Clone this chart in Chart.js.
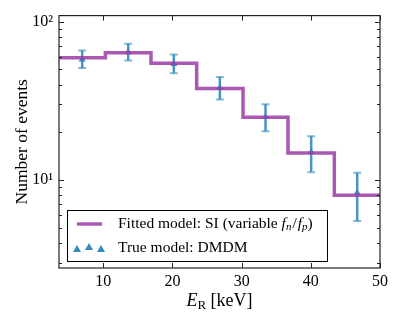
<!DOCTYPE html>
<html>
<head>
    <title>Events vs recoil energy</title>
    <script src="https://cdn.jsdelivr.net/npm/chart.js"></script>
    <style>
        body {
            margin: 0;
            padding: 0;
            background: white;
        }
        .chart-container {
            width: 396px;
            height: 317px;
        }
    </style>
</head>
<body>
    <div class="chart-container">
        <canvas id="eventsChart"></canvas>
    </div>
    <script>
        // bins of the fitted model (keV) and its counts
        const binEdges = [3.6, 10.3, 16.9, 23.5, 30.2, 36.7, 43.4, 50];
        const fittedCounts = [59, 63.5, 54.5, 37.8, 24.9, 14.8, 8.0];

        // simulated data (true model) with error bars
        const binCenters = [6.95, 13.6, 20.2, 26.85, 33.45, 40.05, 46.7];
        const trueCounts = [57.5, 64, 54, 38, 25, 15, 8.3];
        const errLow = [50.8, 56.8, 47.1, 32.2, 20.3, 11.2, 5.5];
        const errHigh = [65.6, 72.5, 61.9, 44.7, 30.1, 18.9, 11.1];

        const xTicks = [10, 20, 30, 40, 50];
        const yTicks = [3, 4, 5, 6, 7, 8, 9, 10, 20, 30, 40, 50, 60, 70, 80, 90, 100];
        const yLabels = { 10: '10\u00B9', 100: '10\u00B2' };

        const fitLabel = 'Fitted model: SI (variable ';
        const trueLabel = 'True model: DMDM';

        const SERIF = '"Liberation Serif", "DejaVu Serif", serif';
        const purple = 'rgba(155, 60, 165, 0.85)';
        const blue = '#348ABD';

        // error bars, inward ticks, frame, x title and legend
        const extras = {
            id: 'extras',
            beforeDatasetsDraw(chart) {
                const ctx = chart.ctx;
                const xs = chart.scales.x, ys = chart.scales.y;
                ctx.save();
                for (let i = 0; i < binCenters.length; i++) {
                    const px = xs.getPixelForValue(binCenters[i]);
                    const top = ys.getPixelForValue(errHigh[i]);
                    const bot = ys.getPixelForValue(errLow[i]);
                    ctx.lineWidth = 2.5;
                    ctx.strokeStyle = 'rgba(52, 138, 189, 0.9)';
                    ctx.beginPath();
                    ctx.moveTo(px, top);
                    ctx.lineTo(px, bot);
                    ctx.stroke();
                    ctx.lineWidth = 2;
                    ctx.strokeStyle = 'rgba(52, 138, 189, 0.6)';
                    ctx.beginPath();
                    ctx.moveTo(px - 4, top); ctx.lineTo(px + 4, top);
                    ctx.moveTo(px - 4, bot); ctx.lineTo(px + 4, bot);
                    ctx.stroke();
                }
                ctx.restore();
            },
            afterDraw(chart) {
                const ctx = chart.ctx;
                const a = chart.chartArea;
                const xs = chart.scales.x, ys = chart.scales.y;
                ctx.save();
                ctx.strokeStyle = '#222';
                ctx.lineWidth = 1;
                ctx.beginPath();
                xTicks.forEach(v => {
                    const px = Math.round(xs.getPixelForValue(v)) + 0.5;
                    ctx.moveTo(px, a.bottom); ctx.lineTo(px, a.bottom - 5);
                    ctx.moveTo(px, a.top); ctx.lineTo(px, a.top + 5);
                });
                yTicks.forEach(v => {
                    const major = Math.abs(Math.log10(v) % 1) < 1e-9;
                    const len = major ? 5 : 3;
                    const py = Math.round(ys.getPixelForValue(v)) + 0.5;
                    ctx.moveTo(a.left, py); ctx.lineTo(a.left + len, py);
                    ctx.moveTo(a.right, py); ctx.lineTo(a.right - len, py);
                });
                ctx.stroke();
                ctx.lineWidth = 1.2;
                ctx.strokeRect(a.left, a.top, a.right - a.left, a.bottom - a.top);

                // x axis title: E_R [keV]
                ctx.fillStyle = '#000';
                ctx.textBaseline = 'alphabetic';
                const big = '18px ' + SERIF, itBig = 'italic 18px ' + SERIF, small = '13px ' + SERIF;
                ctx.font = itBig; const wE = ctx.measureText('E').width;
                ctx.font = small; const wR = ctx.measureText('R').width;
                ctx.font = big; const wK = ctx.measureText(' [keV]').width;
                let tx = (a.left + a.right) / 2 - (wE + wR + wK) / 2;
                const ty = 306;
                ctx.font = itBig; ctx.fillText('E', tx, ty); tx += wE;
                ctx.font = small; ctx.fillText('R', tx, ty + 3); tx += wR;
                ctx.font = big; ctx.fillText(' [keV]', tx, ty);

                // legend
                const lx = 67, ly = 210, lw = 260, lh = 51;
                ctx.fillStyle = 'white';
                ctx.fillRect(lx, ly, lw, lh);
                ctx.strokeStyle = '#000';
                ctx.lineWidth = 1;
                ctx.strokeRect(lx + 0.5, ly + 0.5, lw, lh);

                ctx.strokeStyle = purple;
                ctx.lineWidth = 3.5;
                ctx.beginPath();
                ctx.moveTo(77, 224); ctx.lineTo(102, 224);
                ctx.stroke();

                ctx.fillStyle = blue;
                [[77, 249], [89, 247], [101, 249]].forEach(p => {
                    ctx.beginPath();
                    ctx.moveTo(p[0], p[1] - 4);
                    ctx.lineTo(p[0] + 4, p[1] + 3);
                    ctx.lineTo(p[0] - 4, p[1] + 3);
                    ctx.closePath();
                    ctx.fill();
                });

                ctx.fillStyle = '#000';
                ctx.textBaseline = 'middle';
                const lf = '15.5px ' + SERIF, lfi = 'italic 15.5px ' + SERIF, lfs = 'italic 11px ' + SERIF;
                let x0 = 118;
                ctx.font = lf; ctx.fillText(fitLabel, x0, 224); x0 += ctx.measureText(fitLabel).width;
                ctx.font = lfi; ctx.fillText('f', x0, 224); x0 += ctx.measureText('f').width;
                ctx.font = lfs; ctx.fillText('n', x0, 227); x0 += ctx.measureText('n').width + 1;
                ctx.font = lf; ctx.fillText('/', x0, 224); x0 += ctx.measureText('/').width + 1;
                ctx.font = lfi; ctx.fillText('f', x0, 224); x0 += ctx.measureText('f').width;
                ctx.font = lfs; ctx.fillText('p', x0, 227); x0 += ctx.measureText('p').width;
                ctx.font = lf; ctx.fillText(')', x0, 224);
                ctx.fillText(trueLabel, 118, 248);
                ctx.restore();
            }
        };

        const ctx = document.getElementById('eventsChart').getContext('2d');
        new Chart(ctx, {
            type: 'line',
            data: {
                datasets: [{
                    label: fitLabel,
                    data: binEdges.map((x, i) => ({ x: x, y: fittedCounts[Math.min(i, fittedCounts.length - 1)] })),
                    stepped: 'before',
                    borderColor: purple,
                    borderWidth: 3.5,
                    pointRadius: 0,
                    fill: false,
                    order: 0
                }, {
                    label: trueLabel,
                    type: 'scatter',
                    data: binCenters.map((x, i) => ({ x: x, y: trueCounts[i] })),
                    pointStyle: 'triangle',
                    pointRadius: 4,
                    backgroundColor: blue,
                    borderColor: blue,
                    borderWidth: 0,
                    order: 1
                }]
            },
            options: {
                responsive: true,
                maintainAspectRatio: false,
                animation: false,
                layout: { padding: { top: 13, right: 16, left: 0, bottom: 0 } },
                plugins: {
                    legend: { display: false },
                    tooltip: { enabled: false }
                },
                scales: {
                    x: {
                        type: 'linear',
                        min: 3.6,
                        max: 50,
                        afterBuildTicks: axis => { axis.ticks = xTicks.map(v => ({ value: v })); },
                        afterFit: s => { s.height = 49; },
                        grid: { display: false, drawTicks: false },
                        border: { display: false },
                        ticks: {
                            color: '#000',
                            padding: 4,
                            maxRotation: 0,
                            font: { family: SERIF, size: 16 }
                        }
                    },
                    y: {
                        type: 'logarithmic',
                        min: 2.78,
                        max: 109,
                        afterBuildTicks: axis => { axis.ticks = yTicks.map(v => ({ value: v })); },
                        afterFit: s => { s.width = 59; },
                        grid: { display: false, drawTicks: false },
                        border: { display: false },
                        title: {
                            display: true,
                            text: 'Number of events',
                            color: '#000',
                            padding: { top: 12, bottom: 0 },
                            font: { family: SERIF, size: 17.5 }
                        },
                        ticks: {
                            color: '#000',
                            padding: 6,
                            autoSkip: false,
                            font: { family: SERIF, size: 16 },
                            callback: v => yLabels[v] || ''
                        }
                    }
                }
            },
            plugins: [extras]
        });
    </script>
</body>
</html>
